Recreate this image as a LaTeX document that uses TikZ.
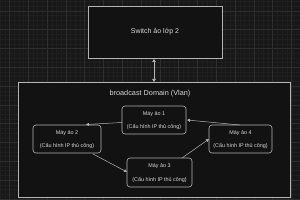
\documentclass[tikz,border=0pt]{standalone}
\usepackage{fontspec}
\setmainfont{Liberation Sans}
\usetikzlibrary{arrows.meta}
\definecolor{bgc}{HTML}{181818}
\definecolor{boxc}{HTML}{121212}
\definecolor{gridmaj}{HTML}{2E2E2E}
\definecolor{gridmin}{HTML}{1F1F1F}
\definecolor{edgec}{HTML}{B4B4B4}
\definecolor{txtc}{HTML}{D8D8D8}
\tikzset{
  bigbox/.style={draw=edgec, fill=boxc, line width=0.7pt},
  vmbox/.style={draw=edgec, fill=boxc, line width=0.6pt, rounded corners=3pt},
  vmtxt/.style={text=txtc, font=\fontsize{5.4}{6}\selectfont, inner sep=0pt},
  link/.style={draw=edgec, line width=0.5pt, -{Triangle[length=3pt,width=3pt]}},
}
\begin{document}
\begin{tikzpicture}[x=1pt,y=-1pt]
\useasboundingbox (0,0) rectangle (300,200);
\fill[bgc] (0,0) rectangle (300,200);
% minor grid
\foreach \x in {0,...,64} { \draw[gridmin, line width=0.3pt] ({9.4-18.8+\x*4.7},0) -- ({9.4-18.8+\x*4.7},200); }
\foreach \y in {0,...,44} { \draw[gridmin, line width=0.3pt] (0,{10.8-18.8+\y*4.7}) -- (300,{10.8-18.8+\y*4.7}); }
% major grid
\foreach \x in {0,...,16} { \draw[gridmaj, line width=0.5pt] ({9.4+\x*18.8},0) -- ({9.4+\x*18.8},200); }
\foreach \y in {0,...,10} { \draw[gridmaj, line width=0.5pt] (0,{10.8+\y*18.8}) -- (300,{10.8+\y*18.8}); }

% switch box
\path[bigbox] (88,6) rectangle (222,58);
\node[text=txtc, font=\fontsize{7}{8}\selectfont] (sw) at (155,32) {Switch ảo lớp 2};
\coordinate (swb) at (154,59);
% broadcast domain
\path[bigbox] (18,82) rectangle (290,197);
\node[text=txtc, font=\fontsize{7.3}{8}\selectfont] (bd) at (150,94) {broadcast Domain (Vlan)};
\coordinate (bdt) at (154,82);
\draw[draw=edgec, line width=0.6pt, {Triangle[length=3pt,width=3.5pt]}-{Triangle[length=3pt,width=3.5pt]}] (swb) -- (bdt);

% VMs
\path[vmbox] (122,106) rectangle (186,134);
\node[vmtxt] (m1a) at (154,114) {Máy ảo 1};
\node[vmtxt] (m1b) at (154,127) {(Cấu hình IP thủ công)};
\path[vmbox] (33,125) rectangle (101,153);
\node[vmtxt] (m2a) at (67,133) {Máy ảo 2};
\node[vmtxt] (m2b) at (67,146) {(Cấu hình IP thủ công)};
\path[vmbox] (127,158) rectangle (192,187);
\node[vmtxt] (m3a) at (159.5,166) {Máy ảo 3};
\node[vmtxt] (m3b) at (159.5,180) {(Cấu hình IP thủ công)};
\path[vmbox] (209,125) rectangle (272,153);
\node[vmtxt] (m4a) at (240.5,133) {Máy ảo 4};
\node[vmtxt] (m4b) at (240.5,146) {(Cấu hình IP thủ công)};

\coordinate (p1l) at (122,122.5);
\coordinate (p2t) at (86,124.5);
\coordinate (p2r) at (93,154);
\coordinate (p3l) at (127,172);
\coordinate (p3t) at (182,158);
\coordinate (p4l) at (209,139);
\coordinate (p4t) at (240,125);
\coordinate (p1r) at (187,120);
\draw[link] (p1l) -- (p2t);
\draw[link] (p2r) -- (p3l);
\draw[link] (p3t) -- (p4l);
\draw[link] (p4t) -- (p1r);
\end{tikzpicture}
\end{document}
